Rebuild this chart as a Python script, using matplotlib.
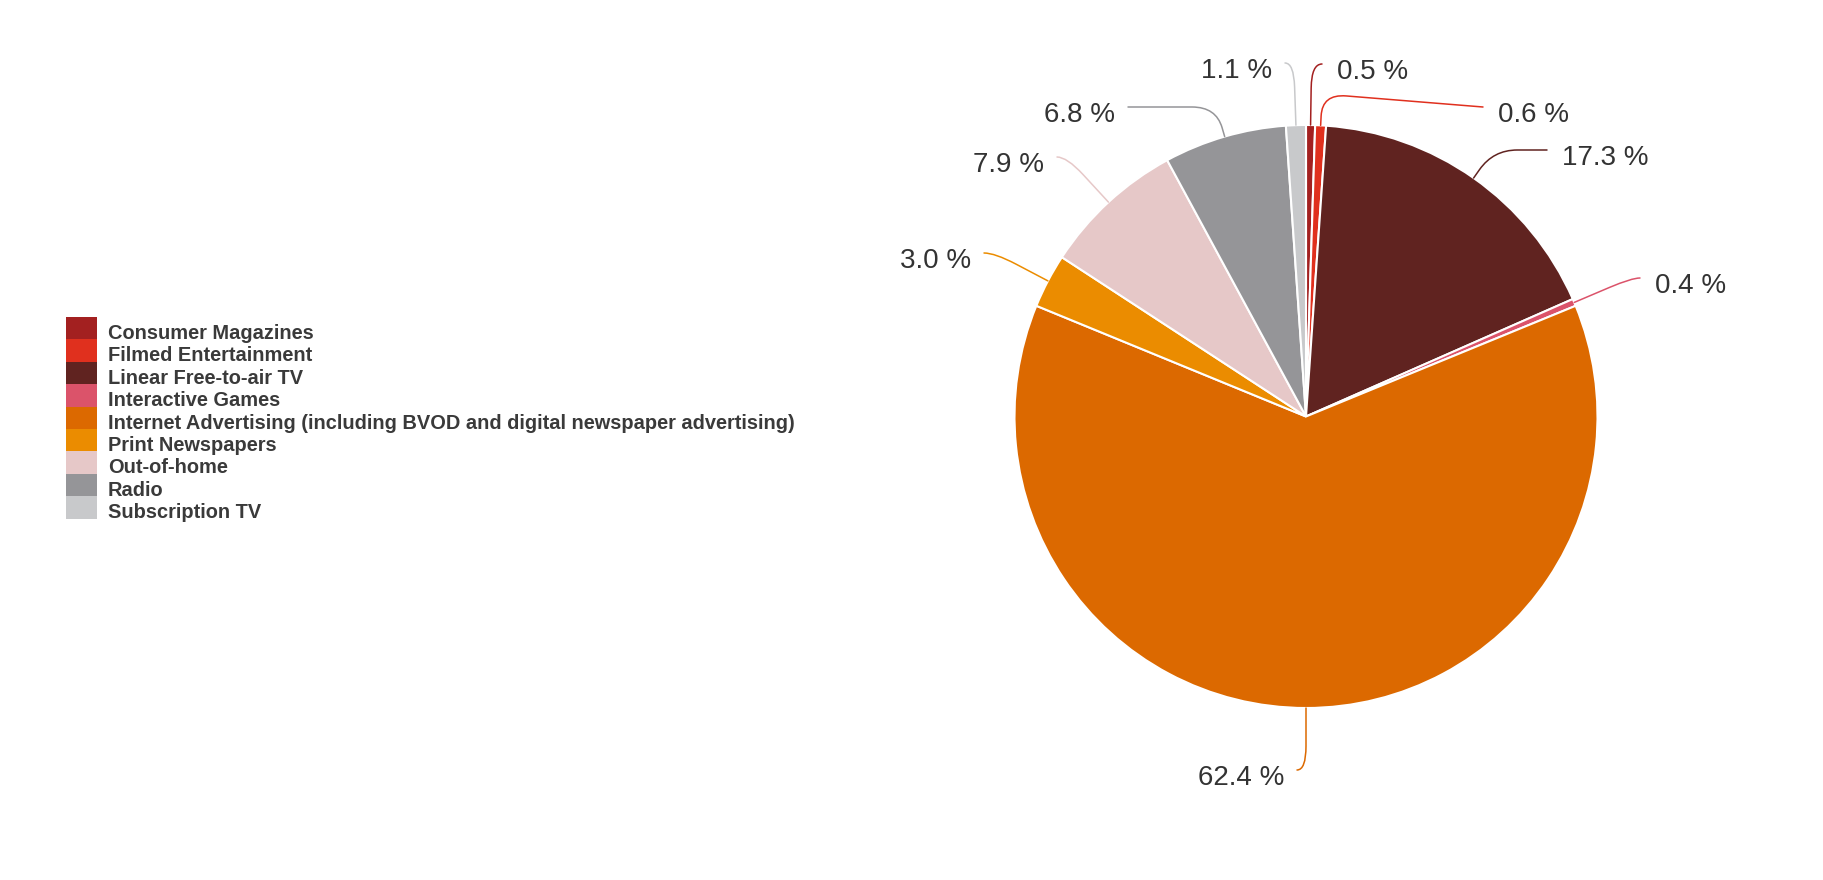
import matplotlib
matplotlib.use("Agg")
import matplotlib.pyplot as plt
from matplotlib.path import Path
from matplotlib.patches import PathPatch, Rectangle
import numpy as np

# ---------------- data ----------------
categories = [
    "Consumer Magazines",
    "Filmed Entertainment",
    "Linear Free-to-air TV",
    "Interactive Games",
    "Internet Advertising (including BVOD and digital newspaper advertising)",
    "Print Newspapers",
    "Out-of-home",
    "Radio",
    "Subscription TV",
]
shares = [0.5, 0.6, 17.3, 0.4, 62.4, 3.0, 7.9, 6.8, 1.1]
colors = ["#a32020", "#e0301e", "#602320", "#db536a", "#dc6900",
          "#eb8c00", "#e6c8c8", "#959598", "#c8c9cb"]
value_labels = [f"{v:.1f} %" for v in shares]

# ---------------- layout (pixels, top-down) ----------------
W, H = 1824, 880
CX, CY, R = 1306, 416.5, 291.5
# (corner_y, end_x, end_y) for each label leader
leader_layout = [
    (64, 1322, 64),
    (94, 1483, 107),
    (150, 1547, 150),
    (278, 1640, 278),
    (770, 1297, 770),
    (253, 984, 253),
    (157, 1057, 157),
    (107, 1128, 107),
    (63, 1285, 63),
]

plt.rcParams["font.family"] = ["Liberation Sans", "DejaVu Sans"]
fig = plt.figure(figsize=(W / 100, H / 100), dpi=100)
ax = fig.add_axes([0, 0, 1, 1])

wedges, _ = ax.pie(shares, colors=colors, startangle=90, counterclock=False,
                   center=(CX, H - CY), radius=R,
                   wedgeprops=dict(edgecolor="white", linewidth=1.5))
ax.set_xlim(0, W)
ax.set_ylim(0, H)
ax.set_aspect("auto")
ax.axis("off")

text_color = "#333333"

for w, lab, col, (cy, ex, ey) in zip(wedges, value_labels, colors, leader_layout):
    th = np.deg2rad((w.theta1 + w.theta2) / 2)
    ux, uy = np.cos(th), np.sin(th)
    A = np.array([CX + R * ux, (H - CY) + R * uy])
    Yc = H - cy
    t = (Yc - A[1]) / uy
    C = A + t * np.array([ux, uy])
    E = np.array([ex, H - ey])
    d1 = np.linalg.norm(C - A)
    d2 = np.linalg.norm(E - C)
    rc1 = min(24, 0.7 * d1)
    rc2 = min(24, d2)
    u1 = (C - A) / d1
    u2 = (E - C) / d2
    P1 = C - rc1 * u1
    P2 = C + rc2 * u2
    verts = [A, P1, C, P2, E]
    codes = [Path.MOVETO, Path.LINETO, Path.CURVE3, Path.CURVE3, Path.LINETO]
    ax.add_patch(PathPatch(Path(verts, codes), facecolor="none",
                           edgecolor=col, lw=1.1, capstyle="round"))
    if ex > C[0]:
        ax.text(ex + 15, H - (ey + 8), lab, ha="left", va="center",
                fontsize=20, color=text_color)
    else:
        ax.text(ex - 13, H - (ey + 8), lab, ha="right", va="center",
                fontsize=20, color=text_color)

# ---------------- legend ----------------
lx, ly, lw_, lh = 66, 317, 31, 22.4
for i, (cat, col) in enumerate(zip(categories, colors)):
    top = ly + i * lh
    ax.add_patch(Rectangle((lx, H - top - lh), lw_, lh, facecolor=col,
                           edgecolor="none"))
    ax.text(108, H - (top + lh) + 0.5, cat, ha="left", va="baseline",
            fontsize=14.4, fontweight="bold", color="#3a3a3a")

fig.savefig("out.png", dpi=100)
